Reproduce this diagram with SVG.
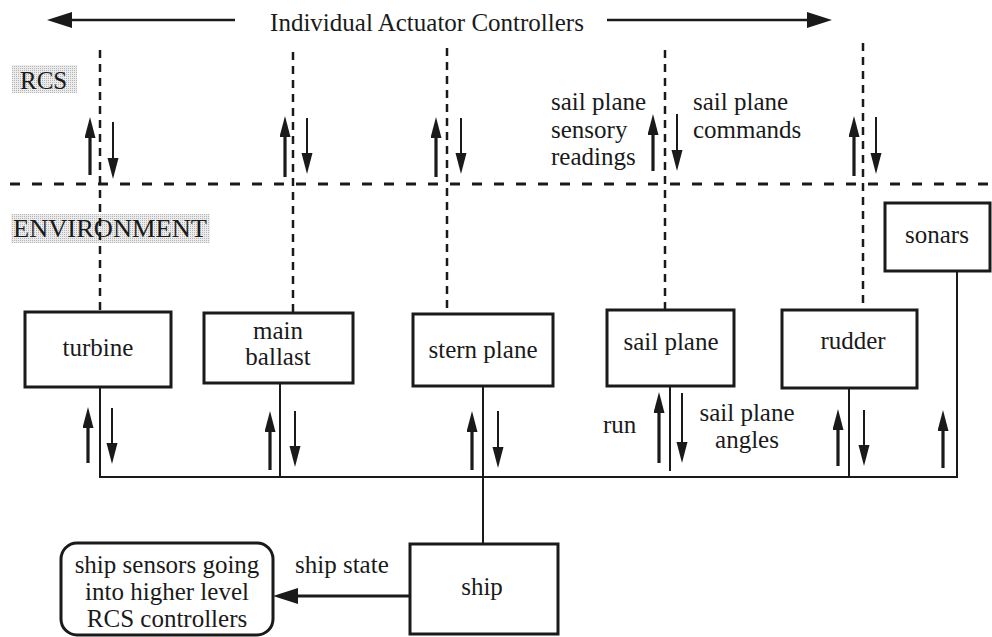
<svg xmlns="http://www.w3.org/2000/svg" width="992" height="637" viewBox="0 0 992 637">
<style>
text{font-family:"Liberation Serif","Times New Roman",serif;font-size:25px;fill:#1a1a1a}
.c{text-anchor:middle}
.box{fill:none;stroke:#1a1a1a;stroke-width:3}
.ln{stroke:#1a1a1a;stroke-width:2;fill:none}
.dh{stroke:#1a1a1a;stroke-width:3;stroke-dasharray:10 12;fill:none}
.dv{stroke:#1a1a1a;stroke-width:2.5;stroke-dasharray:8 6;fill:none}
.up{stroke:#1a1a1a;stroke-width:3.2;fill:none;marker-end:url(#ah)}
.dn{stroke:#1a1a1a;stroke-width:2;fill:none;marker-end:url(#ah)}
.big{stroke:#1a1a1a;stroke-width:3;fill:none;marker-end:url(#ahb)}
</style>
<defs>
<marker id="ah" markerUnits="userSpaceOnUse" markerWidth="22" markerHeight="12" refX="10" refY="5.5" orient="auto">
<path d="M0,0 L21,5.5 L0,11 z" fill="#1a1a1a"/>
</marker>
<marker id="ahb" markerUnits="userSpaceOnUse" markerWidth="26" markerHeight="18" refX="12" refY="8" orient="auto">
<path d="M0,0 L25,8 L0,16 z" fill="#1a1a1a"/>
</marker>
<pattern id="stip" width="2" height="2" patternUnits="userSpaceOnUse">
<rect width="2" height="2" fill="#ececec"/>
<rect width="1" height="1" fill="#b5b5b5"/>
</pattern>
</defs>
<rect width="992" height="637" fill="#ffffff"/>

<g id="title">
<text class="c" x="427" y="31">Individual Actuator Controllers</text>
</g>

<g id="zone-labels">
<rect x="12" y="65" width="65" height="28" fill="url(#stip)"/>
<text x="20" y="89">RCS</text>
<rect x="11" y="214" width="199" height="29" fill="url(#stip)"/>
<text x="13" y="237" textLength="194" lengthAdjust="spacingAndGlyphs">ENVIRONMENT</text>
</g>

<g id="connectors">
<!-- title arrows -->
<line class="big" x1="235" y1="20" x2="60" y2="20" style="stroke-width:2.5"/>
<line class="big" x1="607" y1="20" x2="819" y2="20" style="stroke-width:2.5"/>
<!-- boundary -->
<line class="dh" x1="10" y1="184" x2="992" y2="184"/>
<!-- dashed controller links -->
<line class="dv" x1="100" y1="50" x2="100" y2="311"/>
<line class="dv" x1="293" y1="52" x2="293" y2="312"/>
<line class="dv" x1="447" y1="48" x2="447" y2="313"/>
<line class="dv" x1="665" y1="50" x2="665" y2="309"/>
<line class="dv" x1="863" y1="43" x2="863" y2="305"/>
<!-- RCS band arrows -->
<line class="up" x1="90" y1="175" x2="90" y2="128"/>
<line class="up" x1="285" y1="177" x2="285" y2="127"/>
<line class="up" x1="436" y1="177" x2="436" y2="128"/>
<line class="up" x1="653" y1="171" x2="653" y2="125"/>
<line class="up" x1="854" y1="176" x2="854" y2="127"/>
<line class="dn" x1="113" y1="122" x2="113" y2="168"/>
<line class="dn" x1="307" y1="118" x2="307" y2="163"/>
<line class="dn" x1="461" y1="118" x2="461" y2="163"/>
<line class="dn" x1="677" y1="114" x2="677" y2="160"/>
<line class="dn" x1="876" y1="117" x2="876" y2="163"/>
<!-- solid links to bus -->
<line class="ln" x1="100" y1="387" x2="100" y2="477"/>
<line class="ln" x1="280" y1="383" x2="280" y2="477"/>
<line class="ln" x1="483" y1="386" x2="483" y2="544"/>
<line class="ln" x1="670" y1="386" x2="670" y2="471"/>
<line class="ln" x1="849" y1="388" x2="849" y2="477"/>
<line class="ln" x1="957" y1="271" x2="957" y2="477"/>
<line class="ln" x1="99" y1="477" x2="958" y2="477"/>
<!-- environment band arrows -->
<line class="up" x1="88" y1="463" x2="88" y2="418"/>
<line class="up" x1="270" y1="470" x2="270" y2="422"/>
<line class="up" x1="472" y1="470" x2="472" y2="422"/>
<line class="up" x1="659" y1="463" x2="659" y2="403"/>
<line class="up" x1="838" y1="466" x2="838" y2="420"/>
<line class="up" x1="943" y1="468" x2="943" y2="421"/>
<line class="dn" x1="112" y1="408" x2="112" y2="453"/>
<line class="dn" x1="295" y1="411" x2="295" y2="456"/>
<line class="dn" x1="498" y1="411" x2="498" y2="457"/>
<line class="dn" x1="682" y1="393" x2="682" y2="452"/>
<line class="dn" x1="864" y1="410" x2="864" y2="455"/>
<!-- ship state -->
<line class="big" x1="410" y1="596" x2="286" y2="596"/>
</g>

<g id="labels">
<text x="551" y="110">sail plane</text>
<text x="551" y="138">sensory</text>
<text x="551" y="165">readings</text>
<text x="693" y="110">sail plane</text>
<text x="693" y="138">commands</text>
<text x="603" y="433">run</text>
<text class="c" x="747" y="421">sail plane</text>
<text class="c" x="747" y="448">angles</text>
<text x="295" y="573">ship state</text>
</g>

<g id="turbine">
<rect class="box" x="25" y="312" width="146" height="75"/>
<text class="c" x="98" y="356">turbine</text>
</g>
<g id="main-ballast">
<rect class="box" x="204" y="313" width="149" height="70"/>
<text class="c" x="278" y="339">main</text>
<text class="c" x="278" y="365">ballast</text>
</g>
<g id="stern-plane">
<rect class="box" x="413" y="314" width="140" height="72"/>
<text class="c" x="483" y="358">stern plane</text>
</g>
<g id="sail-plane">
<rect class="box" x="607" y="310" width="127" height="76"/>
<text class="c" x="671" y="350">sail plane</text>
</g>
<g id="rudder">
<rect class="box" x="782" y="310" width="135" height="78"/>
<text class="c" x="853" y="349">rudder</text>
</g>
<g id="sonars">
<rect class="box" x="885" y="203" width="105" height="68"/>
<text class="c" x="937" y="243">sonars</text>
</g>
<g id="ship">
<rect class="box" x="410" y="544" width="148" height="90"/>
<text class="c" x="482" y="595">ship</text>
</g>
<g id="ship-sensors">
<rect class="box" x="61" y="543" width="212" height="92" rx="16" ry="16"/>
<text class="c" x="167" y="573">ship sensors going</text>
<text class="c" x="167" y="600">into higher level</text>
<text class="c" x="167" y="627">RCS controllers</text>
</g>
</svg>
